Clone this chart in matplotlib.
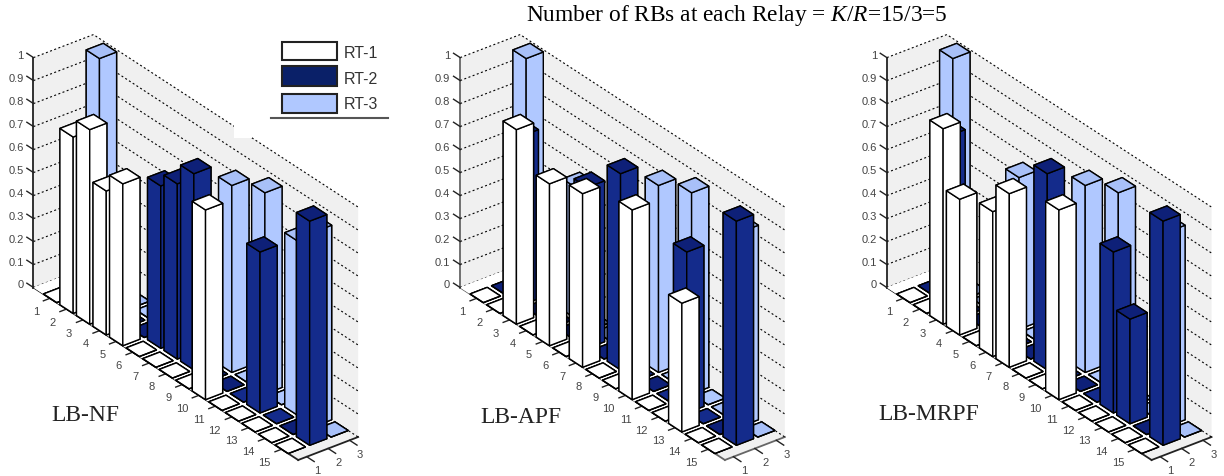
"""Three 3D bar panels of RB allocation per relay."""

import matplotlib
matplotlib.use("Agg")
import matplotlib.pyplot as plt
from matplotlib.lines import Line2D
from matplotlib.patches import Rectangle
from mpl_toolkits.mplot3d import proj3d

WIDTH, HEIGHT = 1224, 477

rows = list(range(1, 16))
relays = [1, 2, 3]
z_ticks = [0, 0.1, 0.2, 0.3, 0.4, 0.5, 0.6, 0.7, 0.8, 0.9, 1]
z_tick_labels = ['0', '0.1', '0.2', '0.3', '0.4', '0.5', '0.6', '0.7', '0.8', '0.9', '1']
panel_names = ['LB-NF', 'LB-APF', 'LB-MRPF']
legend_names = ['RT-1', 'RT-2', 'RT-3']

nf_rt1 = [0, .767, .846, .626, .704, 0, 0, 0, 0, .825, 0, 0, 0, 0, 0]
nf_rt2 = [0, 0, 0, 0, 0, .706, .762, .853, 0, 0, 0, .700, 0, 0, .975]
nf_rt3 = [.990, 0, 0, 0, 0, 0, 0, 0, .813, 0, .875, 0, .758, .846, 0]

apf_rt1 = [0, 0, .846, 0, .704, 0, .755, 0, 0, .825, 0, 0, .560, 0, 0]
apf_rt2 = [0, .735, 0, 0, 0, .700, 0, .853, 0, 0, 0, .700, 0, 0, .975]
apf_rt3 = [.990, 0, 0, .570, 0, 0, 0, 0, .813, 0, .875, 0, 0, .846, 0]

mrpf_rt1 = [0, 0, .850, .590, 0, .630, .755, 0, 0, .825, 0, 0, 0, 0, 0]
mrpf_rt2 = [0, .735, 0, 0, 0, 0, 0, .853, 0, 0, 0, .700, .455, 0, .975]
mrpf_rt3 = [.990, 0, 0, 0, .660, 0, 0, 0, .813, 0, .875, 0, 0, .846, 0]

panels = [
    [nf_rt1, nf_rt2, nf_rt3],
    [apf_rt1, apf_rt2, apf_rt3],
    [mrpf_rt1, mrpf_rt2, mrpf_rt3],
]

# side colour, top colour
bar_colors = [('#ffffff', '#ffffff'), ('#142b8b', '#0e2078'), ('#b0c8ff', '#a8c0f8')]
legend_colors = ['#ffffff', '#0a2068', '#b0c8ff']
axis_colors = ['#222222', '#666666', '#222222']

# pixel positions of the back floor corner of each panel
origins_x = [33.3, 460, 886.7]
origin_y = 288.3
panel_text_x = [51, 480, 878]
panel_text_y = [416, 418, 415]

X_MIN, X_MAX = 0.6, 3.4
Y_MAX = 16
BAR_WIDTH = 0.8


def tick_label(ax, x, y, z, name, ha):
    """Put a tick label at a 3D position, as plain 2D text."""
    px, py, _ = proj3d.proj_transform(x, y, z, ax.get_proj())
    ax.text2D(px, py, name, transform=ax.transData, ha=ha, va='center',
              fontsize=8, color='#444444', zorder=6)


def draw_panel(fig, values, origin_x, axis_color):
    """Draw one MATLAB style bar3 panel."""
    size = 450.0
    center_x = origin_x + 162.5
    center_y = HEIGHT - (origin_y - 40)
    left = center_x - 0.5135 * size
    bottom = center_y - 0.5135 * size
    ax = fig.add_axes([left / WIDTH, bottom / HEIGHT, size / WIDTH, size / HEIGHT],
                      projection='3d', proj_type='ortho', computed_zorder=False)
    ax.patch.set_alpha(0)
    ax.view_init(elev=30, azim=-127.5)
    ax.set_box_aspect((75.6, 435.0, 265.6), zoom=500.0 / size)
    ax.set_xlim(X_MIN, X_MAX, view_margin=0)
    ax.set_ylim(Y_MAX, 0, view_margin=0)
    ax.set_zlim(0, 1, view_margin=0)

    # axis3d cannot place ticks like MATLAB, they are drawn by hand below
    ax.set_xticks([])
    ax.set_yticks([])
    ax.set_zticks([])

    for axis in (ax.xaxis, ax.yaxis, ax.zaxis):
        axis.set_pane_color('#f0f0f0')
        axis.pane.set_edgecolor('none')
        axis.line.set_color(axis_color)
        axis.line.set_linewidth(1.3)

    # floor under the bars is white, only the front strip stays grey
    ax.bar3d(X_MIN, 0, 0, X_MAX - X_MIN, 15.45, 0, color='white', edgecolor='none',
             shade=False, zorder=5)

    tick_style = dict(color='#222222', linewidth=1.0, zorder=6)
    for z, name in zip(z_ticks, z_tick_labels):
        # dotted grid over both walls
        ax.plot([X_MIN, X_MAX, X_MAX], [0, 0, Y_MAX], [z, z, z], color='black',
                linewidth=0.8, linestyle=(0, (1.8, 2.2)), zorder=4)
        ax.plot([X_MIN, X_MIN], [0, -0.4], [z, z], **tick_style)
        tick_label(ax, X_MIN, -0.6, z - 0.015, name, 'right')
    for row in rows:
        ax.plot([X_MIN, X_MIN - 0.31], [row, row], [0, 0], **tick_style)
        tick_label(ax, X_MIN - 0.51, row, -0.037, str(row), 'right')
    for relay in relays:
        ax.plot([relay, relay], [Y_MAX, Y_MAX + 0.45], [0, 0], **tick_style)
        tick_label(ax, relay, Y_MAX + 0.63, -0.03, str(relay), 'center')

    # back to front so the bars cover each other correctly
    order = 0
    for col in [2, 1, 0]:
        side, top = bar_colors[col]
        face_colors = [side, top, side, side, side, side]
        for i, row in enumerate(rows):
            ax.bar3d(relays[col] - BAR_WIDTH / 2, row - BAR_WIDTH / 2, 0, BAR_WIDTH, BAR_WIDTH,
                     values[col][i], color=face_colors, edgecolor='black', linewidth=1.0,
                     shade=False, zorder=10 + order)
            order += 1
    return ax


def main():
    """Create the figure."""
    plt.rcParams['font.family'] = ['Liberation Sans', 'DejaVu Sans']
    plt.rcParams['mathtext.fontset'] = 'custom'
    plt.rcParams['mathtext.rm'] = 'Liberation Serif'
    plt.rcParams['mathtext.it'] = 'Liberation Serif:italic'

    fig = plt.figure(figsize=(WIDTH / 100, HEIGHT / 100), dpi=100)
    for values, origin_x, axis_color in zip(panels, origins_x, axis_colors):
        draw_panel(fig, values, origin_x, axis_color)

    def fx(px):
        return px / WIDTH

    def fy(px):
        return 1 - px / HEIGHT

    fig.text(fx(737), fy(15), 'Number of RBs at each Relay = $K$/$R$=15/3=5',
             family='Liberation Serif', fontsize=16.8, ha='center', va='center')
    for name, px, py in zip(panel_names, panel_text_x, panel_text_y):
        fig.text(fx(px), fy(py), name, family='Liberation Serif', fontsize=17,
                 color='#222222', ha='left', va='center')

    # legend box, also hides a bit of the first panel wall
    fig.add_artist(Rectangle((fx(234), fy(139)), fx(18), fy(120) - fy(139), facecolor='white',
                             edgecolor='none', zorder=5))
    patch_tops = [42.7, 67.3, 94.7]
    patch_bottoms = [60.7, 87.3, 113.5]
    text_y = [53, 80, 105]
    for top, low, ty, color, name in zip(patch_tops, patch_bottoms, text_y, legend_colors, legend_names):
        fig.add_artist(Rectangle((fx(282), fy(low)), fx(55), fy(top) - fy(low),
                                 facecolor=color, edgecolor='#222222', linewidth=1.5, zorder=6))
        fig.text(fx(344), fy(ty), name, fontsize=11.5, color='#333333', va='center', zorder=6)
    fig.add_artist(Line2D([fx(271), fx(388)], [fy(119), fy(119)], color='#555555',
                          linewidth=1.5, zorder=6))

    fig.savefig('out.png', dpi=100)


if __name__ == "__main__":
    main()
